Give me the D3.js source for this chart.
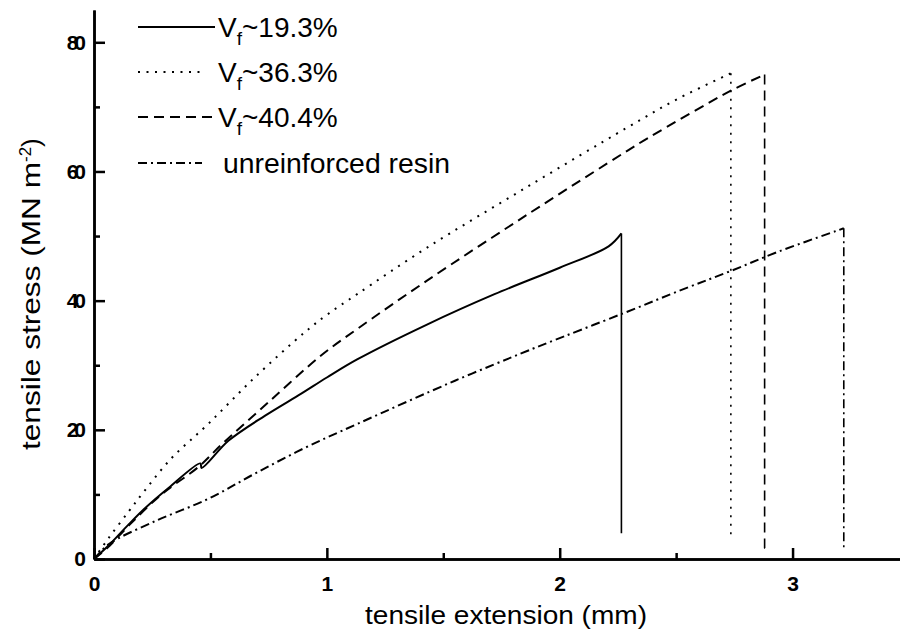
<!DOCTYPE html>
<html>
<head>
<meta charset="utf-8">
<script src="https://cdn.jsdelivr.net/npm/d3@7"></script>
<style>
  html, body { margin: 0; padding: 0; background: #fff; }
  svg { display: block; }
  text { font-family: "Liberation Sans", Arial, sans-serif; fill: #000; }
</style>
</head>
<body>
<svg id="chart" width="900" height="641"></svg>
<script>
// ---- data ----
const seriesNames = ["Vf~19.3%", "Vf~36.3%", "Vf~40.4%", "unreinforced resin"];

const x193 = [0, 0.06, 0.15, 0.22, 0.32, 0.457, 0.462, 0.577, 0.735, 0.89, 1.0, 1.13, 1.43, 1.72, 2.0, 2.21, 2.265, 2.265];
const y193 = [0, 2.0, 5.4, 7.9, 11.0, 14.8, 14.1, 18.3, 22.2, 25.6, 28.1, 30.9, 36.3, 41.0, 45.1, 48.4, 50.4, 4.0];

const x363 = [0, 0.064, 0.15, 0.205, 0.33, 0.49, 0.69, 0.905, 1.0, 1.13, 1.43, 1.86, 2.29, 2.51, 2.735, 2.735];
const y363 = [0, 3.3, 7.4, 10.0, 15.5, 20.9, 28.1, 35.1, 37.8, 41.0, 48.2, 57.6, 66.8, 71.3, 75.2, 3.1];

const x404 = [0, 0.06, 0.15, 0.29, 0.45, 0.55, 0.75, 0.975, 1.13, 1.43, 1.86, 2.29, 2.38, 2.74, 2.88, 2.88, 2.9];
const y404 = [0, 1.8, 5.2, 10.0, 14.3, 17.8, 24.3, 31.5, 35.6, 43.1, 53.3, 63.2, 65.2, 72.6, 75.0, 1.7, 1.0];

const xResin = [0, 0.064, 0.265, 0.49, 0.69, 0.905, 1.13, 1.55, 1.86, 1.95, 2.27, 2.54, 2.735, 2.94, 3.22, 3.22];
const yResin = [0, 2.3, 5.9, 9.3, 13.2, 17.2, 20.9, 27.6, 32.2, 33.5, 38.0, 41.9, 44.6, 47.6, 51.2, 1.6];

// index of the failure (peak) point in each series: curve before, drop after
const peakIndex = [16, 14, 14, 14];

const xMajorTicks = [0, 1, 2, 3];
const xMinorTicks = [0.5, 1.5, 2.5];
const yMajorTicks = [0, 20, 40, 60, 80];
const yMinorTicks = [10, 30, 50, 70];

const xTitle = "tensile extension (mm)";
const yTitle = "tensile stress (MN m";

// ---- drawing ----
const svg = d3.select("#chart");
const x = d3.scaleLinear().domain([0, 3.47]).range([94, 902]);
const y = d3.scaleLinear().domain([0, 85]).range([559, 10]);

const styles = [
  { dash: null, width: 2 },
  { dash: "2,6.5", width: 2 },
  { dash: "10,6", width: 2 },
  { dash: "9,4,2,4", width: 2 }
];

const series = [
  d3.zip(x193, y193),
  d3.zip(x363, y363),
  d3.zip(x404, y404),
  d3.zip(xResin, yResin)
];

const smooth = d3.line().x(d => x(d[0])).y(d => y(d[1])).curve(d3.curveCatmullRom.alpha(0.5));
const straight = d3.line().x(d => x(d[0])).y(d => y(d[1]));

series.forEach((pts, i) => {
  const k = peakIndex[i];
  const g = svg.append("g")
    .attr("fill", "none")
    .attr("stroke", "#000")
    .attr("stroke-linejoin", "round")
    .attr("stroke-dasharray", styles[i].dash);
  g.append("path").attr("d", smooth(pts.slice(0, k + 1))).attr("stroke-width", styles[i].width);
  g.append("path").attr("d", straight(pts.slice(k))).attr("stroke-width", 1.6);
});

// axes
const yAxis = d3.axisLeft(y).tickValues(yMajorTicks).tickSizeInner(-11).tickSizeOuter(0).tickPadding(12);
const yMinor = d3.axisLeft(y).tickValues(yMinorTicks).tickSizeInner(-6).tickSizeOuter(0).tickFormat("");
const xAxis = d3.axisBottom(x).tickValues(xMajorTicks).tickSizeInner(-11).tickSizeOuter(0).tickPadding(17).tickFormat(d3.format("d"));
const xMinor = d3.axisBottom(x).tickValues(xMinorTicks).tickSizeInner(-6).tickSizeOuter(0).tickFormat("");

function styleAxis(g) {
  g.selectAll("path.domain").attr("stroke", "#000").attr("stroke-width", 2.5);
  g.selectAll(".tick line").attr("stroke", "#000").attr("stroke-width", 2.5);
  g.selectAll(".tick text")
    .style("font-family", "'Liberation Sans', Arial, sans-serif")
    .style("font-size", "21px")
    .style("font-weight", "bold")
    .attr("fill", "#000");
}

const gy = svg.append("g").attr("transform", `translate(${x(0)},0)`).call(yAxis).call(styleAxis);
gy.selectAll(".tick text").style("letter-spacing", "-4px");
svg.append("g").attr("transform", `translate(${x(0)},0)`).call(yMinor).call(styleAxis);
svg.append("g").attr("transform", `translate(0,${y(0)})`).call(xAxis).call(styleAxis);
svg.append("g").attr("transform", `translate(0,${y(0)})`).call(xMinor).call(styleAxis);

// axis titles
svg.append("text")
  .attr("x", 365).attr("y", 624)
  .attr("textLength", 282).attr("lengthAdjust", "spacingAndGlyphs")
  .style("font-size", "25px")
  .text(xTitle);

const yt = svg.append("text")
  .attr("transform", "translate(40,450) rotate(-90)")
  .style("font-size", "26px");
yt.append("tspan").attr("textLength", 288).attr("lengthAdjust", "spacingAndGlyphs").text(yTitle);
yt.append("tspan").attr("dy", -9).style("font-size", "17px").text("-2");
yt.append("tspan").attr("dy", 9).text(")");

// legend
const legendY = [27, 72, 117, 163];
const legendEnd = [215, 202, 215, 202];
seriesNames.forEach((name, i) => {
  svg.append("line")
    .attr("x1", 138).attr("x2", legendEnd[i])
    .attr("y1", legendY[i]).attr("y2", legendY[i])
    .attr("stroke", "#000").attr("stroke-width", 2)
    .attr("stroke-dasharray", styles[i].dash);
  const t = svg.append("text")
    .attr("y", legendY[i] + 10)
    .style("font-size", "28px");
  if (name.startsWith("Vf")) {
    t.attr("x", 218);
    t.append("tspan").text("V");
    t.append("tspan").attr("dy", 8).style("font-size", "19px").text("f");
    t.append("tspan").attr("dy", -8).text(name.slice(2));
  } else {
    t.attr("x", 223).attr("textLength", 227).attr("lengthAdjust", "spacingAndGlyphs").text(name);
  }
});
</script>
</body>
</html>
